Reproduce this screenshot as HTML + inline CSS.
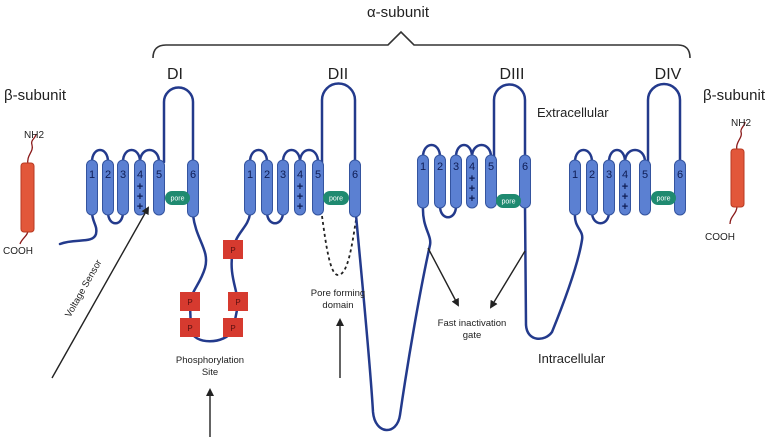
<!DOCTYPE html>
<html><head><meta charset="utf-8"><style>
html,body{margin:0;padding:0;background:#fff;}
svg{display:block;font-family:"Liberation Sans",sans-serif;}
.seg{fill:#5b80d2;stroke:#34549f;stroke-width:1;}
.ln{fill:none;stroke:#233a8c;stroke-width:2.5;stroke-linecap:round;}
.num{font-size:11px;fill:#0f1d55;text-anchor:middle;}
.pl{font-size:11px;fill:#0f1d55;text-anchor:middle;font-weight:bold;}
.pore{fill:#1f8a70;}
.pt{font-size:7px;fill:#fff;text-anchor:middle;}
.pb{fill:#d63a2f;}
.ptx{font-size:8px;fill:#5a1010;text-anchor:middle;}
.lab{font-size:9.5px;fill:#222;text-anchor:middle;}
.ar{stroke:#222;stroke-width:1.4;fill:none;}
</style></head><body>
<svg width="777" height="440" viewBox="0 0 777 440">
<defs><marker id="ah" markerWidth="8" markerHeight="8" refX="6" refY="4" orient="auto" markerUnits="userSpaceOnUse"><path d="M0,0 L8,4 L0,8 z" fill="#222"/></marker></defs>

<text x="398" y="17" font-size="15" text-anchor="middle" fill="#222">α-subunit</text>
<path d="M153,58 Q153,45 166,45 L388,45 L401,32 L414,45 L678,45 Q690,45 690,58" fill="none" stroke="#333" stroke-width="1.6"/>
<text x="175" y="79" font-size="16" text-anchor="middle" fill="#222">DI</text>
<text x="338" y="79" font-size="16" text-anchor="middle" fill="#222">DII</text>
<text x="512" y="79" font-size="16" text-anchor="middle" fill="#222">DIII</text>
<text x="668" y="79" font-size="16" text-anchor="middle" fill="#222">DIV</text>
<text x="4" y="100" font-size="15" fill="#222">β-subunit</text>
<text x="703" y="100" font-size="15" fill="#222">β-subunit</text>
<text x="537" y="117" font-size="13" fill="#222">Extracellular</text>
<text x="538" y="363" font-size="13" fill="#222">Intracellular</text>

<path d="M28,165 C26,155 34,152 32,145 C30,140 36,138 36,134" fill="none" stroke="#8a1a1a" stroke-width="1.3"/>
<path d="M28,230 C28,236 22,238 20,244" fill="none" stroke="#8a1a1a" stroke-width="1.3"/>
<rect x="21" y="163" width="13" height="69" rx="3" fill="#e2573a" stroke="#b83a22"/>
<text x="24" y="138" font-size="10" fill="#222">NH2</text>
<text x="3" y="254" font-size="10" fill="#222">COOH</text>
<path d="M737,150 C735,142 743,138 741,132 C740,128 745,126 745,122" fill="none" stroke="#8a1a1a" stroke-width="1.3"/>
<path d="M737,206 C737,214 730,216 730,224" fill="none" stroke="#8a1a1a" stroke-width="1.3"/>
<rect x="731" y="149" width="13" height="58" rx="3" fill="#e2573a" stroke="#b83a22"/>
<text x="731" y="126" font-size="10" fill="#222">NH2</text>
<text x="705" y="240" font-size="10" fill="#222">COOH</text>

<path class="ln" d="M92,212 C92,222 98,226 96,234 C93,244 75,238 60,244"/>
<path class="ln" d="M92,162 C92,146 108,146 108,162"/>
<path class="ln" d="M108,212 C108,227 123,227 123,212"/>
<path class="ln" d="M123,162 C123,146 140,146 140,162"/>
<path class="ln" d="M140,162 C140,146 159,146 159,162"/>
<path class="ln" d="M164,162 L164,102 A14.5,14.5 0 0 1 193,102 L193,162"/>
<path class="ln" d="M193,215 C196,240 210,250 205,268 C200,285 190,292 190,305 L191,330 C193,345 225,345 233,330 L238,305 C238,290 228,275 233,250 C236,232 248,228 250,214"/>
<path class="ln" d="M250,162 C250,146 267,146 267,162"/>
<path class="ln" d="M267,212 C267,227 283,227 283,212"/>
<path class="ln" d="M283,162 C283,146 300,146 300,162"/>
<path class="ln" d="M300,162 C300,146 318,146 318,162"/>
<path class="ln" d="M322,162 L322,100 A16.5,16.5 0 0 1 355,100 L355,162"/>
<path d="M322,216 C326,245 330,275 338,275 C348,275 352,245 356,220" fill="none" stroke="#222" stroke-width="1.8" stroke-dasharray="3,3"/>
<path class="ln" d="M356,215 C360,260 370,360 373,412 C375,435 397,436 400,415 C408,360 420,290 430,245 C432,235 422,228 423,206"/>
<path class="ln" d="M423,157 C423,141 440,141 440,157"/>
<path class="ln" d="M440,206 C440,221 456,221 456,206"/>
<path class="ln" d="M456,157 C456,141 472,141 472,157"/>
<path class="ln" d="M472,157 C472,141 491,141 491,157"/>
<path class="ln" d="M494,157 L494,100 A15.5,15.5 0 0 1 525,100 L525,157"/>
<path class="ln" d="M525,206 L526,325 C527,342 545,342 552,332 C565,300 578,265 582,240 C584,230 574,228 575,214"/>
<path class="ln" d="M575,162 C575,146 592,146 592,162"/>
<path class="ln" d="M592,212 C592,227 609,227 609,212"/>
<path class="ln" d="M609,162 C609,146 625,146 625,162"/>
<path class="ln" d="M625,162 C625,146 645,146 645,162"/>
<path class="ln" d="M648,162 L648,100 A16,16 0 0 1 680,100 L680,162"/>

<rect class="seg" x="86.5" y="160" width="11" height="55" rx="5.5"/>
<rect class="seg" x="102.5" y="160" width="11" height="55" rx="5.5"/>
<rect class="seg" x="117.5" y="160" width="11" height="55" rx="5.5"/>
<rect class="seg" x="134.5" y="160" width="11" height="55" rx="5.5"/>
<rect class="seg" x="153.5" y="160" width="11" height="55" rx="5.5"/>
<rect class="seg" x="187.5" y="160" width="11" height="57" rx="5.5"/>
<text class="num" x="92" y="178">1</text><text class="num" x="108" y="178">2</text><text class="num" x="123" y="178">3</text><text class="num" x="140" y="178">4</text><text class="num" x="159" y="178">5</text><text class="num" x="193" y="178">6</text>
<text class="pl" x="140" y="190">+</text><text class="pl" x="140" y="200">+</text><text class="pl" x="140" y="210">+</text>
<rect class="pore" x="165" y="191" width="25" height="14" rx="7"/><text class="pt" x="177.5" y="200.5">pore</text>

<rect class="seg" x="244.5" y="160" width="11" height="55" rx="5.5"/>
<rect class="seg" x="261.5" y="160" width="11" height="55" rx="5.5"/>
<rect class="seg" x="277.5" y="160" width="11" height="55" rx="5.5"/>
<rect class="seg" x="294.5" y="160" width="11" height="55" rx="5.5"/>
<rect class="seg" x="312.5" y="160" width="11" height="55" rx="5.5"/>
<rect class="seg" x="349.5" y="160" width="11" height="57" rx="5.5"/>
<text class="num" x="250" y="178">1</text><text class="num" x="267" y="178">2</text><text class="num" x="283" y="178">3</text><text class="num" x="300" y="178">4</text><text class="num" x="318" y="178">5</text><text class="num" x="355" y="178">6</text>
<text class="pl" x="300" y="190">+</text><text class="pl" x="300" y="200">+</text><text class="pl" x="300" y="210">+</text>
<rect class="pore" x="323" y="191" width="26" height="14" rx="7"/><text class="pt" x="336" y="200.5">pore</text>

<rect class="seg" x="417.5" y="155" width="11" height="53" rx="5.5"/>
<rect class="seg" x="434.5" y="155" width="11" height="53" rx="5.5"/>
<rect class="seg" x="450.5" y="155" width="11" height="53" rx="5.5"/>
<rect class="seg" x="466.5" y="155" width="11" height="53" rx="5.5"/>
<rect class="seg" x="485.5" y="155" width="11" height="53" rx="5.5"/>
<rect class="seg" x="519.5" y="155" width="11" height="53" rx="5.5"/>
<text class="num" x="423" y="170">1</text><text class="num" x="440" y="170">2</text><text class="num" x="456" y="170">3</text><text class="num" x="472" y="170">4</text><text class="num" x="491" y="170">5</text><text class="num" x="525" y="170">6</text>
<text class="pl" x="472" y="182">+</text><text class="pl" x="472" y="192">+</text><text class="pl" x="472" y="202">+</text>
<rect class="pore" x="496" y="194" width="25" height="14" rx="7"/><text class="pt" x="508.5" y="203.5">pore</text>

<rect class="seg" x="569.5" y="160" width="11" height="55" rx="5.5"/>
<rect class="seg" x="586.5" y="160" width="11" height="55" rx="5.5"/>
<rect class="seg" x="603.5" y="160" width="11" height="55" rx="5.5"/>
<rect class="seg" x="619.5" y="160" width="11" height="55" rx="5.5"/>
<rect class="seg" x="639.5" y="160" width="11" height="55" rx="5.5"/>
<rect class="seg" x="674.5" y="160" width="11" height="55" rx="5.5"/>
<text class="num" x="575" y="178">1</text><text class="num" x="592" y="178">2</text><text class="num" x="609" y="178">3</text><text class="num" x="625" y="178">4</text><text class="num" x="645" y="178">5</text><text class="num" x="680" y="178">6</text>
<text class="pl" x="625" y="190">+</text><text class="pl" x="625" y="200">+</text><text class="pl" x="625" y="210">+</text>
<rect class="pore" x="651" y="191" width="25" height="14" rx="7"/><text class="pt" x="663.5" y="200.5">pore</text>

<rect class="pb" x="223" y="240" width="20" height="19"/><text class="ptx" x="233" y="253">P</text>
<rect class="pb" x="180" y="292" width="20" height="19"/><text class="ptx" x="190" y="305">P</text>
<rect class="pb" x="228" y="292" width="20" height="19"/><text class="ptx" x="238" y="305">P</text>
<rect class="pb" x="180" y="318" width="20" height="19"/><text class="ptx" x="190" y="331">P</text>
<rect class="pb" x="223" y="318" width="20" height="19"/><text class="ptx" x="233" y="331">P</text>

<text class="lab" x="210" y="363">Phosphorylation</text>
<text class="lab" x="210" y="375">Site</text>
<line class="ar" x1="210" y1="437" x2="210" y2="390" marker-end="url(#ah)"/>
<text class="lab" x="338" y="296">Pore forming</text>
<text class="lab" x="338" y="308">domain</text>
<line class="ar" x1="340" y1="378" x2="340" y2="320" marker-end="url(#ah)"/>
<text class="lab" x="472" y="326">Fast inactivation</text>
<text class="lab" x="472" y="338">gate</text>
<line class="ar" x1="428" y1="248" x2="458" y2="305" marker-end="url(#ah)"/>
<line class="ar" x1="525" y1="251" x2="491" y2="307" marker-end="url(#ah)"/>
<line class="ar" x1="52" y1="378" x2="148" y2="208" marker-end="url(#ah)"/>
<text class="lab" x="0" y="0" transform="translate(86,290) rotate(-60.5)">Voltage Sensor</text>
</svg>
</body></html>
